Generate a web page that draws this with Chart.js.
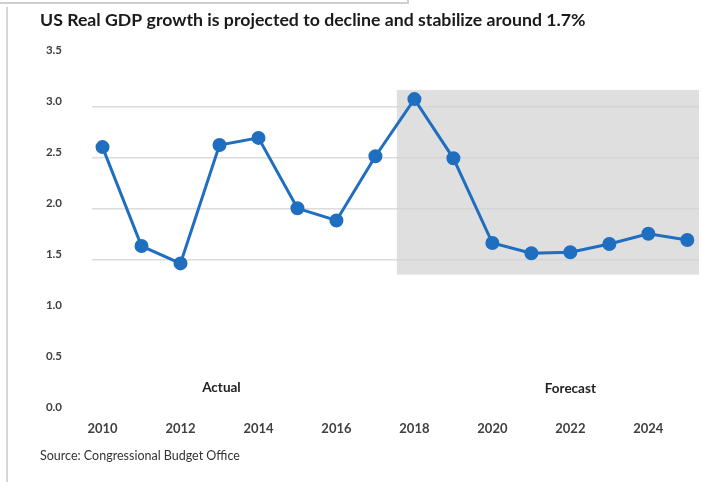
<!DOCTYPE html>
<html lang="en">
  <head>
    <meta charset="UTF-8" />
    <title>US Real GDP growth</title>
    <script src="https://cdn.jsdelivr.net/npm/chart.js"></script>
    <style>
      body { margin: 0; background: #fff; }
      #wrap { position: relative; width: 702px; height: 482px; }
      .frame-top { position: absolute; left: 0; top: 0; width: 407px; height: 2px;
                   border-bottom: 2px solid #cfcfcf; border-right: 2px solid #cfcfcf; }
      .frame-left { position: absolute; left: 6px; top: 7px; bottom: 0; border-left: 2px solid #d6d6d6; }
    </style>
  </head>
  <body>
    <div id="wrap">
      <canvas id="myChart" width="702" height="482"></canvas>
      <div class="frame-top"></div>
      <div class="frame-left"></div>
    </div>

    <script>
      // CBO real GDP growth, %
      const years = [2010, 2011, 2012, 2013, 2014, 2015, 2016, 2017,
                     2018, 2019, 2020, 2021, 2022, 2023, 2024, 2025];
      const growth = [2.60, 1.63, 1.46, 2.62, 2.69, 2.00, 1.88, 2.51,
                      3.07, 2.49, 1.66, 1.56, 1.57, 1.65, 1.75, 1.69];
      const xTicks = [2010, 2012, 2014, 2016, 2018, 2020, 2022, 2024];

      // shaded forecast band
      const bandX = [2017.55, 2025.3];
      const bandY = [1.35, 3.16];

      const phaseLabels = ['Actual', 'Forecast'];
      const phaseX = [2013.05, 2022.0];
      const phaseY = [0.24, 0.23];

      const blue = '#1f6ec0';

      const bandPlugin = {
        id: 'band',
        beforeDatasetsDraw(chart) {
          const { ctx, scales: { x, y } } = chart;
          const x0 = x.getPixelForValue(bandX[0]);
          const x1 = x.getPixelForValue(bandX[1]);
          const y0 = y.getPixelForValue(bandY[1]);
          const y1 = y.getPixelForValue(bandY[0]);
          ctx.save();
          ctx.fillStyle = 'rgba(210, 210, 210, 0.7)';
          ctx.fillRect(x0, y0, x1 - x0, y1 - y0);
          ctx.restore();
        },
        afterDatasetsDraw(chart) {
          const { ctx, scales: { x, y } } = chart;
          ctx.save();
          ctx.font = 'bold 13.5px Lato';
          ctx.fillStyle = '#222';
          ctx.textAlign = 'center';
          ctx.textBaseline = 'middle';
          phaseLabels.forEach((t, i) => {
            ctx.fillText(t, x.getPixelForValue(phaseX[i]), y.getPixelForValue(phaseY[i]));
          });
          ctx.restore();
        }
      };

      const ctx = document.getElementById('myChart').getContext('2d');
      const myChart = new Chart(ctx, {
        type: 'line',
        data: {
          datasets: [{
            label: 'Real GDP growth',
            data: years.map((yr, i) => ({ x: yr, y: growth[i] })),
            borderColor: blue,
            backgroundColor: blue,
            borderWidth: 3,
            pointRadius: 5.5,
            pointHoverRadius: 5.5,
            tension: 0
          }]
        },
        options: {
          responsive: false,
          animation: false,
          layout: { autoPadding: false, padding: { left: 40, right: 3, top: 0, bottom: 0 } },
          plugins: {
            legend: { display: false },
            tooltip: { enabled: false },
            title: {
              display: true,
              text: 'US Real GDP growth is projected to decline and stabilize around 1.7%',
              align: 'start',
              color: '#1a1a1a',
              font: { family: 'Lato', size: 17.7, weight: 'bold' },
              padding: { top: 9.5, bottom: 24.5 }
            },
            subtitle: {
              display: true,
              position: 'bottom',
              align: 'start',
              text: 'Source: Congressional Budget Office',
              color: '#333',
              font: { family: 'Lato', size: 12.5 },
              padding: { top: 2, bottom: 19 }
            }
          },
          scales: {
            x: {
              type: 'linear',
              min: 2009.73,
              max: 2025.3,
              afterBuildTicks: (scale) => { scale.ticks = xTicks.map(v => ({ value: v })); },
              grid: { display: false, drawTicks: false },
              border: { display: false },
              ticks: {
                padding: 9,
                maxRotation: 0,
                color: '#404040',
                font: { family: 'Lato', size: 13, weight: 'bold' },
                callback: v => String(v)
              }
            },
            y: {
              min: 0,
              max: 3.5,
              afterFit: (scale) => { scale.width = 52; },
              border: { display: false },
              grid: {
                drawTicks: false,
                lineWidth: 1.5,
                color: (c) => (c.tick && c.tick.value >= 1.5 && c.tick.value <= 3.0) ? '#dcdcdc' : 'transparent'
              },
              ticks: {
                stepSize: 0.5,
                padding: 30,
                labelOffset: -5,
                color: '#404040',
                font: { family: 'Lato', size: 11.5, weight: 'bold' },
                callback: v => v.toFixed(1)
              }
            }
          }
        },
        plugins: [bandPlugin]
      });
    </script>
  </body>
</html>
